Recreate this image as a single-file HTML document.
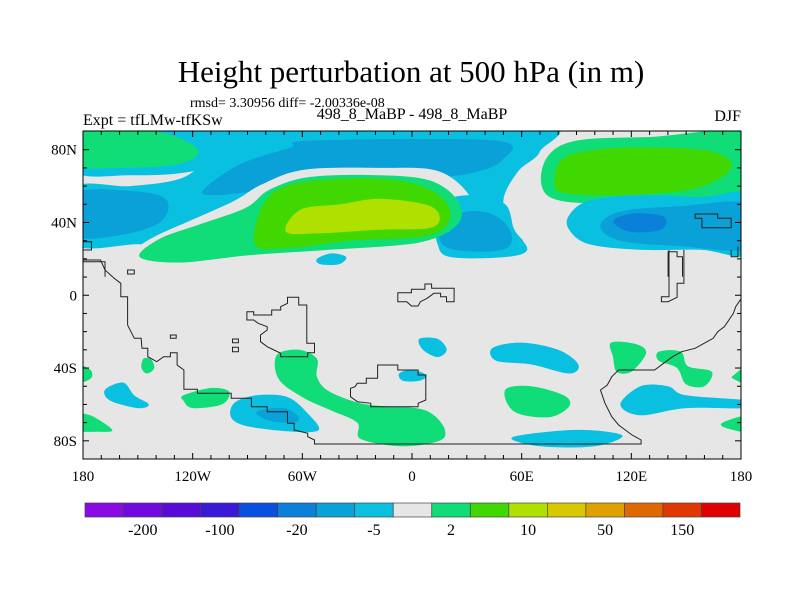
<!DOCTYPE html>
<html><head><meta charset="utf-8"><style>
html,body{margin:0;padding:0;background:#fff;}
svg{display:block;font-family:"Liberation Serif",serif;}
</style></head><body>
<svg id="chart" width="800" height="600" viewBox="0 0 800 600" xmlns="http://www.w3.org/2000/svg">
<defs><clipPath id="plotclip"><rect x="83" y="131" width="658" height="328"/></clipPath></defs>
<text x="411" y="82" font-size="31" text-anchor="middle">Height perturbation at 500 hPa (in m)</text>
<text x="190" y="107" font-size="14">rmsd= 3.30956 diff= -2.00336e-08</text>
<text x="83" y="125" font-size="16">Expt = tfLMw-tfKSw</text>
<text x="412" y="119" font-size="16" text-anchor="middle">498_8_MaBP - 498_8_MaBP</text>
<text x="741" y="121" font-size="16" text-anchor="end">DJF</text>
<g id="plot" clip-path="url(#plotclip)">
<rect x="83" y="131" width="658" height="328" fill="#e6e6e6"/>
<g id="fills"></g><g id="coast"></g>
</g>
<rect x="83" y="131" width="658" height="328" fill="none" stroke="#000" stroke-width="1"/>
<g id="axes"></g><g id="cbar"></g>
</svg>
<script>
const NS="http://www.w3.org/2000/svg";
// ---- data ----
const levelColors={c20:"#0a80d8",c10:"#0aa0d8",c5:"#0ac0e0",gap:"#e6e6e6",g2:"#10dc78",g10:"#40d800",g20:"#b0e000"};
const blobLevels=["c5","g2","c5","c10","c10","gap","c5","c10","g2","g10","g20","c5","g2","g10","c5","c10","c20",
"c5","c5","g2","c5","g2","g2","g2","c5","g2","g2","g2","c5","g2","g2","c5","c10","g2","c5"];
const blobShapes=[
[[-185,95],[-93,95],[-96,80],[-106,72],[-127,67],[-154,66],[-185,68]],
[[-185,92],[-140,90],[-117,80],[-128,72],[-160,70],[-185,72]],
[[-185,59],[-154,60],[-127,64],[-113,74],[-102,85],[-95,95],[68,95],[70,79],[58,68],[50,52],[56,36],[60,30],[40,40],[-61,40],[-120,28],[-150,28],[-185,28]],
[[-114,58],[-94,72],[-67,81],[-55,85],[46,85],[49,74],[32,67],[4,64],[-34,62],[-78,58],[-108,55]],
[[-185,56],[-150,57],[-134,52],[-138,40],[-160,33],[-185,33]],
[[-160,18],[-143,31],[-119,42],[-97,52],[-82,61],[-59,69],[-18,70],[15,68],[33,52],[31,35],[7,24],[-45,18],[-89,16],[-149,13]],
[[13,41],[18,52],[34,55],[51,50],[56,36],[63,25],[51,21],[21,21],[14,28]],
[[15,38],[30,46],[45,44],[54,35],[52,26],[35,24],[18,27]],
[[-149,21],[-138,31],[-116,39],[-91,48],[-78,58],[-56,65],[-18,66],[10,63],[25,52],[25,39],[4,29],[-45,25],[-89,22],[-127,18]],
[[-86,28],[-80,52],[-61,62],[-18,64],[10,58],[21,45],[10,33],[-34,30],[-67,26]],
[[-69,35],[-61,47],[-39,50],[-18,53],[7,50],[15,44],[10,37],[-18,36],[-51,34]],
[[-52,20],[-44,23],[-36,21],[-40,17],[-50,17]],
[[71,60],[74,76],[90,85],[130,87],[185,88],[185,50],[158,48],[114,50],[81,52]],
[[78,62],[84,76],[114,81],[158,80],[174,74],[171,66],[152,58],[114,55],[84,56]],
[[86,44],[97,52],[125,55],[158,54],[185,55],[185,23],[158,25],[125,25],[97,28],[86,36]],
[[103,38],[114,46],[147,49],[185,50],[185,26],[147,27],[114,30]],
[[110,41],[122,45],[138,43],[136,36],[119,35]],
[[4,-24],[14,-24],[19,-30],[14,-34],[6,-30]],
[[44,-29],[60,-26],[80,-30],[91,-38],[86,-43],[65,-38],[46,-36]],
[[51,-52],[65,-50],[83,-55],[86,-61],[75,-67],[56,-64]],
[[55,-78],[90,-74],[115,-77],[100,-83],[70,-83]],
[[109,-26],[123,-27],[128,-32],[120,-42],[112,-42],[110,-34]],
[[135,-31],[147,-31],[151,-39],[164,-42],[160,-50],[150,-49],[145,-40],[135,-36]],
[[176,-44],[185,-38],[185,-49],[176,-46]],
[[114,-60],[125,-50],[140,-50],[150,-55],[185,-58],[185,-62],[150,-62],[125,-66]],
[[170,-70],[185,-66],[185,-75],[172,-73]],
[[-185,-38],[-176,-41],[-176,-46],[-185,-48]],
[[-147,-35],[-143,-35],[-141,-40],[-145,-43],[-148,-40]],
[[-168,-52],[-158,-48],[-152,-55],[-144,-60],[-150,-62],[-165,-58]],
[[-185,-66],[-176,-66],[-164,-74],[-172,-75],[-185,-74]],
[[-125,-55],[-110,-51],[-100,-53],[-104,-60],[-120,-62],[-125,-58]],
[[-97,-59],[-85,-55],[-68,-56],[-57,-65],[-51,-74],[-65,-75],[-90,-72],[-99,-67]],
[[-85,-64],[-70,-62],[-62,-67],[-65,-70],[-78,-69]],
[[-74,-33],[-62,-30],[-52,-35],[-52,-45],[-45,-53],[-25,-60],[2,-62],[12,-66],[18,-74],[15,-80],[-5,-83],[-28,-79],[-30,-70],[-45,-63],[-60,-56],[-73,-46]],
[[-7,-43],[0,-41],[8,-44],[4,-47],[-5,-47]]
];
const xTickLabels=["180","120W","60W","0","60E","120E","180"];
const xTickLons=[-180,-120,-60,0,60,120,180];
const yTickLabels=["80N","40N","0","40S","80S"];
const yTickLats=[80,40,0,-40,-80];
const cbarColors=["#8a0ae6","#700ae0","#5a0ad8","#3a1ad8","#0a50e0","#0a80d8","#0aa0d8","#0ac0e0","#e6e6e6","#10dc78","#40d800","#b0e000","#d8c800","#e0a000","#e06800","#e03800","#e00000"];
const cbarLabels=["-200","-100","-20","-5","2","10","50","150"];
// ---- axes ----
const X0=83,X1=741,Y0=131.5,Y1=459;
const xs=lon=>X0+(lon+180)/360*(X1-X0);
const ys=lat=>Y0+(90-lat)/180*(Y1-Y0);
function smooth(pts){
  const n=pts.length;let d="";
  for(let i=0;i<n;i++){
    const p0=pts[(i-1+n)%n],p1=pts[i],p2=pts[(i+1)%n],p3=pts[(i+2)%n];
    if(i===0)d+="M"+p1[0].toFixed(1)+","+p1[1].toFixed(1);
    const c1=[p1[0]+(p2[0]-p0[0])/6,p1[1]+(p2[1]-p0[1])/6];
    const c2=[p2[0]-(p3[0]-p1[0])/6,p2[1]-(p3[1]-p1[1])/6];
    d+="C"+c1.map(v=>v.toFixed(1))+" "+c2.map(v=>v.toFixed(1))+" "+p2[0].toFixed(1)+","+p2[1].toFixed(1);
  }
  return d+"Z";
}
const fills=document.getElementById("fills");
blobShapes.forEach((shape,i)=>{
  const p=document.createElementNS(NS,"path");
  p.setAttribute("d",smooth(shape.map(q=>[xs(q[0]),ys(q[1])])));
  p.setAttribute("fill",levelColors[blobLevels[i]]);
  
  
  fills.appendChild(p);
});
// coastlines (outline geometry from map, in reference pixel units)
const cx=z=>60+z/2.22, cy=z=>260+z/3;
const cy1=z=>90+z/3;
const coastLines=[
 {y:cy,closed:false,pts:[[40,0],[90,0],[100,30],[120,55],[135,70],[135,110],[150,110],[150,195],[165,235],[180,235],[182,265],[195,265],[195,290],[215,305],[230,290],[245,290],[245,278],[260,278],[260,315],[275,330],[275,388],[305,388],[305,400],[380,400],[380,415],[425,415],[425,440],[460,440],[460,455],[505,455],[505,490],[520,490],[520,510],[550,520],[550,530],[565,540],[565,552],[1290,552],[1290,540],[1270,525],[1255,510],[1240,495],[1225,470],[1210,430],[1200,390],[1215,375],[1225,350],[1240,330],[1320,330],[1340,310],[1360,290],[1380,275],[1410,265],[1430,250],[1450,235],[1460,215],[1475,200],[1485,180],[1495,160],[1500,140],[1510,120],[1540,110]]},
 {y:cy,closed:true,pts:[[415,155],[430,155],[430,165],[470,165],[470,150],[490,150],[490,140],[505,130],[505,112],[530,112],[530,135],[548,135],[548,250],[565,250],[565,278],[550,278],[550,290],[490,290],[490,280],[475,270],[460,260],[445,245],[445,225],[460,210],[460,200],[440,190],[430,180],[415,180]]},
 {y:cy,closed:true,pts:[[705,315],[750,315],[750,330],[795,330],[795,345],[812,345],[812,420],[795,430],[795,440],[690,440],[690,430],[660,425],[645,410],[645,385],[655,380],[660,370],[680,370],[680,355],[705,355]]},
 {y:cy,closed:true,pts:[[750,98],[780,98],[780,88],[810,88],[810,72],[825,72],[825,85],[875,85],[875,125],[858,125],[858,110],[845,110],[845,100],[830,100],[815,115],[800,125],[795,138],[780,138],[770,125],[750,125]]},
 {y:cy,closed:false,pts:[[1352,-30],[1352,110],[1335,110],[1335,125],[1350,125],[1370,112],[1370,70],[1385,70],[1385,-30]]},
 {y:cy,closed:true,pts:[[150,30],[165,30],[165,42],[150,42]]},
 {y:cy,closed:true,pts:[[245,225],[258,225],[258,235],[245,235]]},
 {y:cy,closed:true,pts:[[383,237],[396,237],[396,248],[383,248]]},
 {y:cy,closed:true,pts:[[383,262],[396,262],[396,275],[383,275]]},
 {y:cy,closed:false,pts:[[1490,-30],[1490,-10],[1505,-10],[1505,-40]]},
 {y:cy1,closed:true,pts:[[1410,372],[1460,372],[1460,385],[1490,385],[1490,413],[1425,413],[1425,385],[1410,385]]},
 {y:cy1,closed:true,pts:[[40,455],[70,455],[70,480],[40,480]]},
 {y:cy1,closed:false,pts:[[40,515],[100,515],[100,560]]},
 {y:cy1,closed:false,pts:[[1350,560],[1350,485],[1370,485],[1370,500],[1382,500],[1382,560]]},
 {y:cy1,closed:false,pts:[[1520,450],[1520,480],[1540,480]]}
];
const coast=document.getElementById("coast");
coastLines.forEach(c=>{
  const el=document.createElementNS(NS,c.closed?"polygon":"polyline");
  el.setAttribute("points",c.pts.map(p=>cx(p[0]).toFixed(1)+","+c.y(p[1]).toFixed(1)).join(" "));
  el.setAttribute("fill","none");el.setAttribute("stroke","#222");el.setAttribute("stroke-width","1");
  
  
  coast.appendChild(el);
});
// ticks & labels
const axes=document.getElementById("axes");
function line(x1,y1,x2,y2,name){const l=document.createElementNS(NS,"line");
  l.setAttribute("x1",x1);l.setAttribute("y1",y1);l.setAttribute("x2",x2);l.setAttribute("y2",y2);
  l.setAttribute("stroke","#000");l.setAttribute("stroke-width","1");
  
  
  axes.appendChild(l);}
for(let lon=-170;lon<180;lon+=10){const major=lon%60===0;const L=major?6:4;const x=xs(lon);
  line(x,Y1,x,Y1-L,"x-tick");line(x,131,x,131+L,"x-tick");}
for(let lat=-80;lat<=80;lat+=10){const major=lat%40===0;const L=major?6:4;const y=ys(lat);
  line(X0,y,X0+L,y,"y-tick");line(X1,y,X1-L,y,"y-tick");}
xTickLabels.forEach((t,i)=>{const e=document.createElementNS(NS,"text");
  e.setAttribute("x",xs(xTickLons[i]));e.setAttribute("y",481);e.setAttribute("font-size","15");e.setAttribute("text-anchor","middle");
  e.textContent=t;
  
  
  axes.appendChild(e);});
yTickLabels.forEach((t,i)=>{const e=document.createElementNS(NS,"text");
  e.setAttribute("x",77);e.setAttribute("y",ys(yTickLats[i])+5);e.setAttribute("font-size","15");e.setAttribute("text-anchor","end");
  e.textContent=t;
  
  
  axes.appendChild(e);});
// colorbar
const cb=document.getElementById("cbar");const CB0=85,CB1=740,bw=(CB1-CB0)/cbarColors.length;
cbarColors.forEach((c,i)=>{const r=document.createElementNS(NS,"rect");
  r.setAttribute("x",CB0+i*bw);r.setAttribute("y",503);r.setAttribute("width",bw);r.setAttribute("height",14);
  r.setAttribute("fill",c);r.setAttribute("stroke","#444");r.setAttribute("stroke-width","0.7");
  
  
  cb.appendChild(r);});
cbarLabels.forEach((t,i)=>{const e=document.createElementNS(NS,"text");
  e.setAttribute("x",CB0+(2*i+1.5)*bw);e.setAttribute("y",535);e.setAttribute("font-size","16");e.setAttribute("text-anchor","middle");
  e.textContent=t;
  
  
  cb.appendChild(e);});
</script>
</body></html>
